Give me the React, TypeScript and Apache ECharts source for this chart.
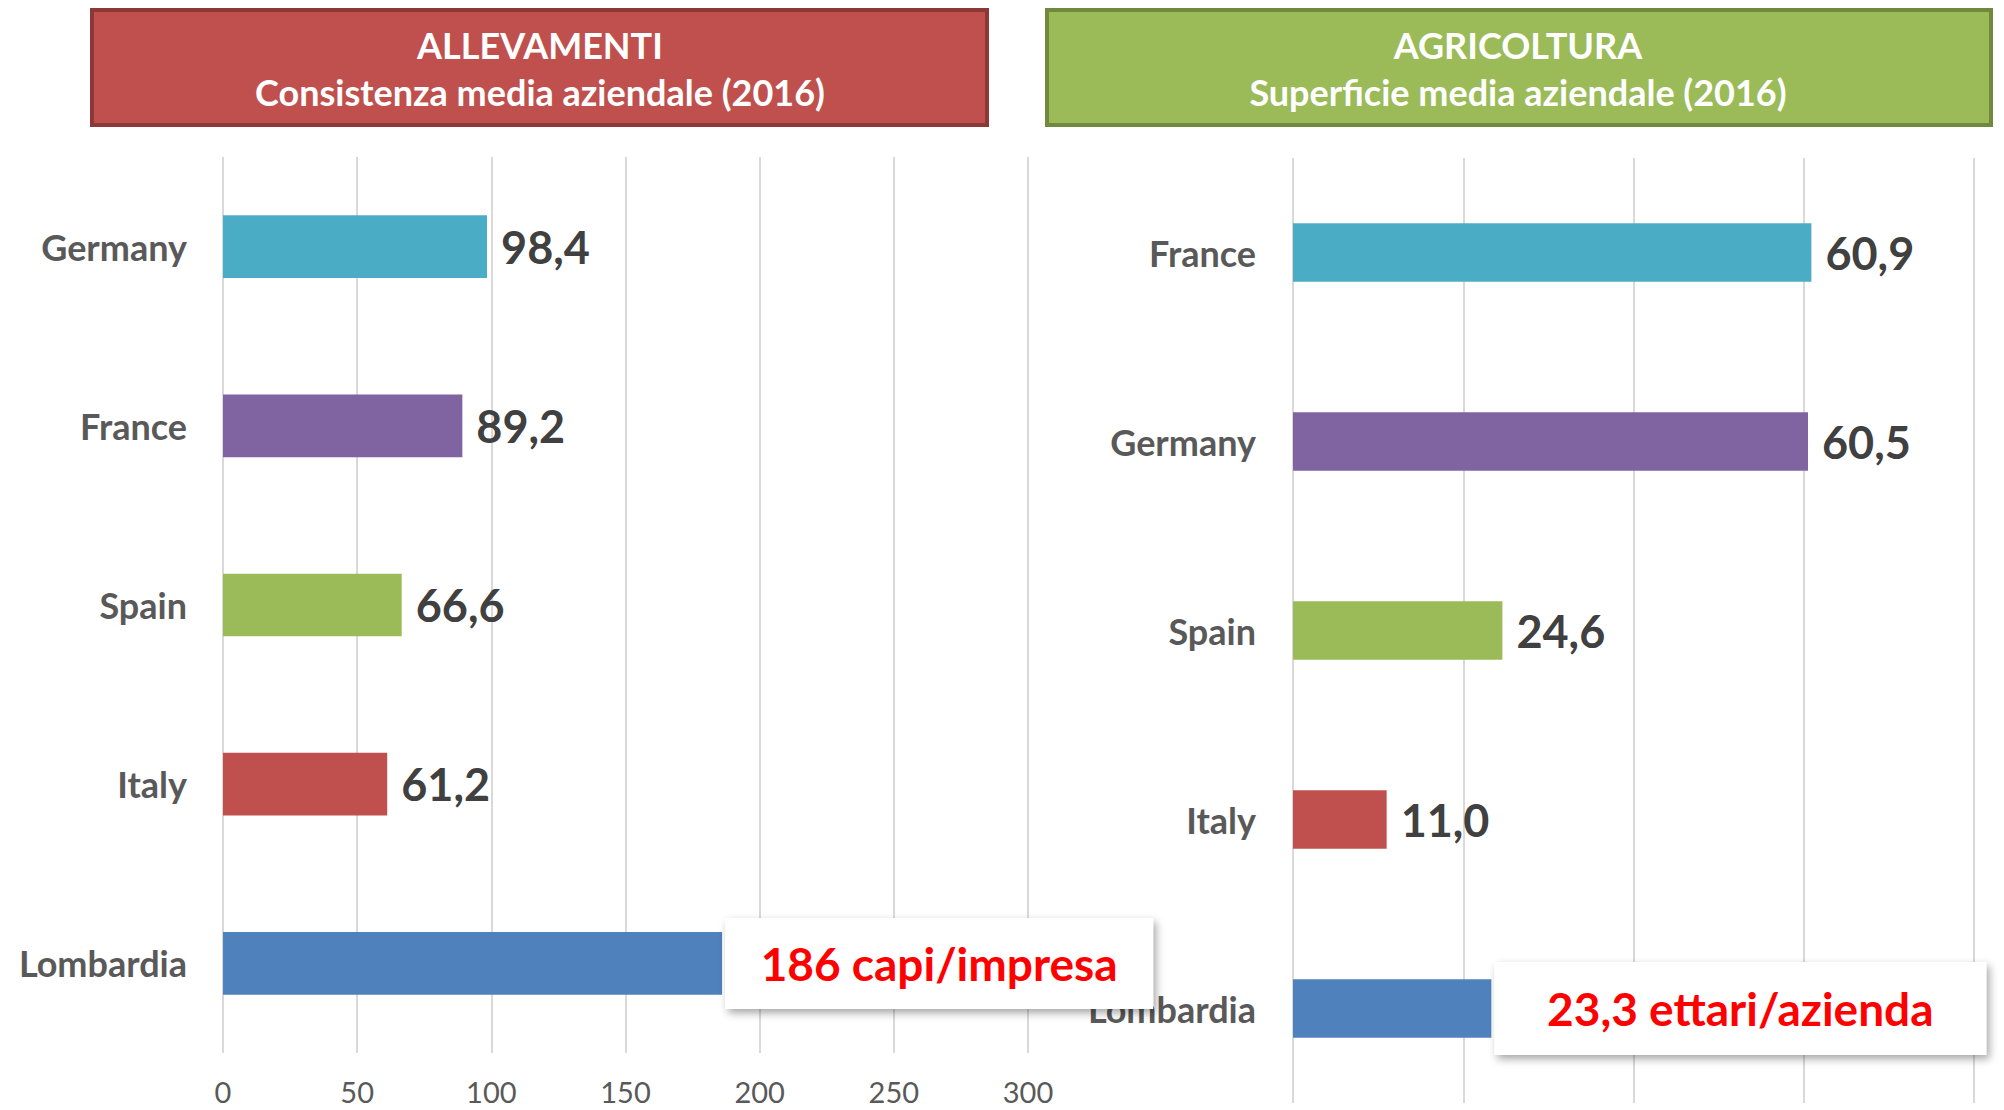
import React, { useEffect, useRef } from "react";
import * as echarts from "echarts";

const leftCategories = ["Germany", "France", "Spain", "Italy", "Lombardia"];
const leftValues = [98.4, 89.2, 66.6, 61.2, 186];
const leftTicks = [0, 50, 100, 150, 200, 250, 300];
const leftCallout = "186 capi/impresa";

const rightCategories = ["France", "Germany", "Spain", "Italy", "Lombardia"];
const rightValues = [60.9, 60.5, 24.6, 11.0, 23.3];
const rightCallout = "23,3 ettari/azienda";

const barColors = ["#4BACC6", "#8064A2", "#9BBB59", "#C0504D", "#4F81BD"];

const leftTitle = ["ALLEVAMENTI", "Consistenza media aziendale (2016)"];
const rightTitle = ["AGRICOLTURA", "Superficie media aziendale (2016)"];

const FONT = "Lato, 'Open Sans', 'Noto Sans', sans-serif";

function fmt(v: number) {
  return v.toFixed(1).replace(".", ",");
}

function buildData(values: number[], callout: string, boxW: number, boxH: number) {
  return values.map((v, i) => {
    const item: any = { value: v, itemStyle: { color: barColors[i] } };
    if (i === values.length - 1) {
      item.label = {
        show: true,
        position: "right",
        distance: 3,
        formatter: "{c|" + callout + "}",
        rich: {
          c: {
            width: boxW,
            height: boxH,
            lineHeight: boxH,
            align: "center",
            backgroundColor: "#ffffff",
            shadowColor: "rgba(0,0,0,0.35)",
            shadowBlur: 8,
            shadowOffsetX: 3,
            shadowOffsetY: 4,
            color: "#FF0000",
            fontSize: 46,
            fontWeight: "bold",
            fontFamily: FONT,
          },
        },
      };
    }
    return item;
  });
}

function titleBox(cx: number, x: number, w: number, fill: string, stroke: string, lines: string[]) {
  return {
    type: "group",
    children: [
      {
        type: "rect",
        shape: { x, y: 10, width: w, height: 115 },
        style: { fill, stroke, lineWidth: 4 },
      },
      {
        type: "text",
        x: cx,
        y: 45,
        style: {
          text: lines[0],
          fill: "#ffffff",
          font: `bold 36px ${FONT}`,
          textAlign: "center",
          textVerticalAlign: "middle",
        },
      },
      {
        type: "text",
        x: cx,
        y: 92,
        style: {
          text: lines[1],
          fill: "#ffffff",
          font: `bold 36px ${FONT}`,
          textAlign: "center",
          textVerticalAlign: "middle",
        },
      },
    ],
  };
}

export default function App() {
  const ref = useRef<HTMLDivElement>(null);
  useEffect(() => {
    document.body.style.margin = "0";
    if (!ref.current) return;
    const chart = echarts.init(ref.current, undefined, { renderer: "svg" });
    const valueLabel = {
      show: true,
      position: "right",
      distance: 14,
      color: "#404040",
      fontSize: 45,
      fontWeight: "bold",
      fontFamily: FONT,
      formatter: (p: any) => fmt(p.value),
    };
    const catLabel = {
      color: "#595959",
      fontSize: 36,
      fontWeight: "bold",
      fontFamily: FONT,
    };
    chart.setOption({
      animation: false,
      backgroundColor: "#ffffff",
      grid: [
        { left: 223, top: 157, width: 805, height: 896 },
        { left: 1293, top: 158, width: 681, height: 945 },
      ],
      xAxis: [
        {
          type: "value",
          gridIndex: 0,
          min: leftTicks[0],
          max: leftTicks[leftTicks.length - 1],
          interval: leftTicks[1] - leftTicks[0],
          axisLine: { show: false },
          axisTick: { show: false },
          axisLabel: {
            color: "#595959",
            fontSize: 29,
            fontFamily: FONT,
            margin: 24,
          },
          splitLine: { lineStyle: { color: "#D9D9D9", width: 2 } },
        },
        {
          type: "value",
          gridIndex: 1,
          min: 0,
          max: 80,
          interval: 20,
          axisLine: { show: false },
          axisTick: { show: false },
          axisLabel: { show: false },
          splitLine: { lineStyle: { color: "#D9D9D9", width: 2 } },
        },
      ],
      yAxis: [
        {
          type: "category",
          gridIndex: 0,
          inverse: true,
          data: leftCategories,
          axisLine: { show: false },
          axisTick: { show: false },
          axisLabel: { ...catLabel, margin: 36 },
        },
        {
          type: "category",
          gridIndex: 1,
          inverse: true,
          data: rightCategories,
          axisLine: { show: false },
          axisTick: { show: false },
          axisLabel: { ...catLabel, margin: 37 },
        },
      ],
      series: [
        {
          type: "bar",
          xAxisIndex: 0,
          yAxisIndex: 0,
          barWidth: "35%",
          data: buildData(leftValues, leftCallout, 428, 91),
          label: valueLabel,
          z: 5,
        },
        {
          type: "bar",
          xAxisIndex: 1,
          yAxisIndex: 1,
          barWidth: "31%",
          data: buildData(rightValues, rightCallout, 492, 93),
          label: valueLabel,
          z: 6,
        },
      ],
      graphic: [
        titleBox(540, 92, 895, "#C0504D", "#8C3836", leftTitle),
        titleBox(1518, 1047, 944, "#9BBB59", "#71893F", rightTitle),
      ],
    });
    return () => chart.dispose();
  }, []);
  return <div ref={ref} style={{ width: 2004, height: 1110 }} />;
}
